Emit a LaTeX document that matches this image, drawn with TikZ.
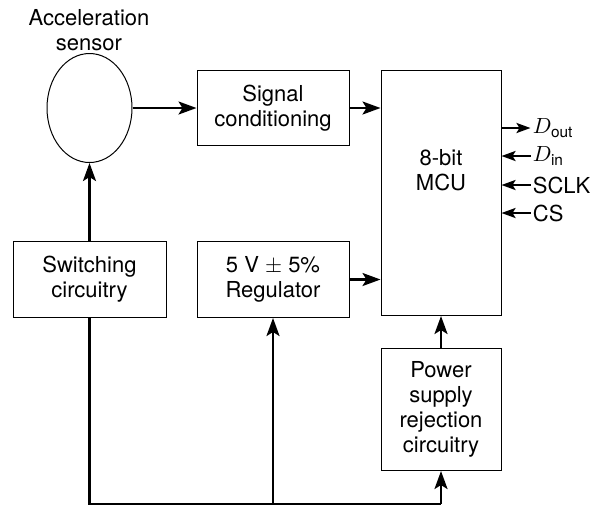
\documentclass[tikz,border=0pt]{standalone}
\usepackage{fontspec}
\setmainfont{TeX Gyre Heros}
\usepackage{amsmath}
\usetikzlibrary{positioning,arrows.meta,shapes.geometric}
\tikzset{
  blockbox/.style={draw, line width=0.5pt, align=center, inner sep=2pt},
  flowarrow/.style={-{Stealth[length=9pt,width=6.5pt,inset=2pt]}, line width=1.2pt},
  busline/.style={line width=1.2pt},
  pinarrow/.style={-{Stealth[length=7pt,width=5pt,inset=1.5pt]}, line width=1.2pt},
  pinlabel/.style={anchor=west, inner sep=1pt}
}

\begin{document}
\begin{tikzpicture}[font=\fontsize{11}{12.5}\selectfont]
    \useasboundingbox (0,0) rectangle (298.5pt,-252.5pt);
    \node[draw, ellipse, line width=0.5pt, minimum width=42.5pt, minimum height=54.5pt, inner sep=0pt] (sensor) at (44.75pt,-54pt) {};
    \node[align=center] (sensorlabel) at (44.5pt,-15pt) {Acceleration\\sensor};
    \node[blockbox, minimum width=76pt, minimum height=37.5pt, right=32pt of sensor] (signal) {Signal\\conditioning};
    \node[blockbox, minimum width=60pt, minimum height=122.5pt, right=15.5pt of signal.north east, anchor=north west] (mcu) {};
    \node[align=center] (mcutext) at ([yshift=11.5pt]mcu.center) {8-bit\\MCU};
    \node[blockbox, minimum width=76pt, minimum height=38pt, below=47.5pt of signal] (regulator) {5 V $\pm$ 5\%\\Regulator};
    \node[blockbox, minimum width=76.5pt, minimum height=38pt, left=15pt of regulator] (switching) {Switching\\circuitry};
    \node[blockbox, minimum width=60pt, minimum height=61pt, below=16pt of mcu] (psr) {Power\\supply\\rejection\\circuitry};
    \coordinate[below=16.5pt of psr.south] (bus);

    % MCU pins
    \coordinate (doutpin) at ([yshift=-29pt]mcu.north east);
    \coordinate (dinpin) at ([yshift=-43pt]mcu.north east);
    \coordinate (sclkpin) at ([yshift=-57.5pt]mcu.north east);
    \coordinate (cspin) at ([yshift=-71.5pt]mcu.north east);
    \node[pinlabel, right=14.5pt of doutpin] (dout) {$D_{\text{out}}$};
    \node[pinlabel, right=14.5pt of dinpin] (din) {$D_{\text{in}}$};
    \node[pinlabel, right=14.5pt of sclkpin] (sclk) {SCLK};
    \node[pinlabel, right=14.5pt of cspin] (cs) {CS};

    \draw[flowarrow] (sensor) -- (signal);
    \draw[flowarrow] (signal) -- (signal -| mcu.west);
    \draw[flowarrow] (regulator) -- (regulator -| mcu.west);
    \draw[flowarrow] (psr) -- (mcu);
    \draw[flowarrow] (switching) -- (sensor);
    \draw[busline] (switching) |- (bus);
    \draw[flowarrow] (bus) -- (psr);
    \draw[flowarrow] (regulator.south |- bus) -- (regulator);

    \draw[pinarrow] (doutpin) -- (dout.west);
    \draw[pinarrow] (din.west) -- (dinpin);
    \draw[pinarrow] (sclk.west) -- (sclkpin);
    \draw[pinarrow] (cs.west) -- (cspin);
  \end{tikzpicture}
\end{document}
